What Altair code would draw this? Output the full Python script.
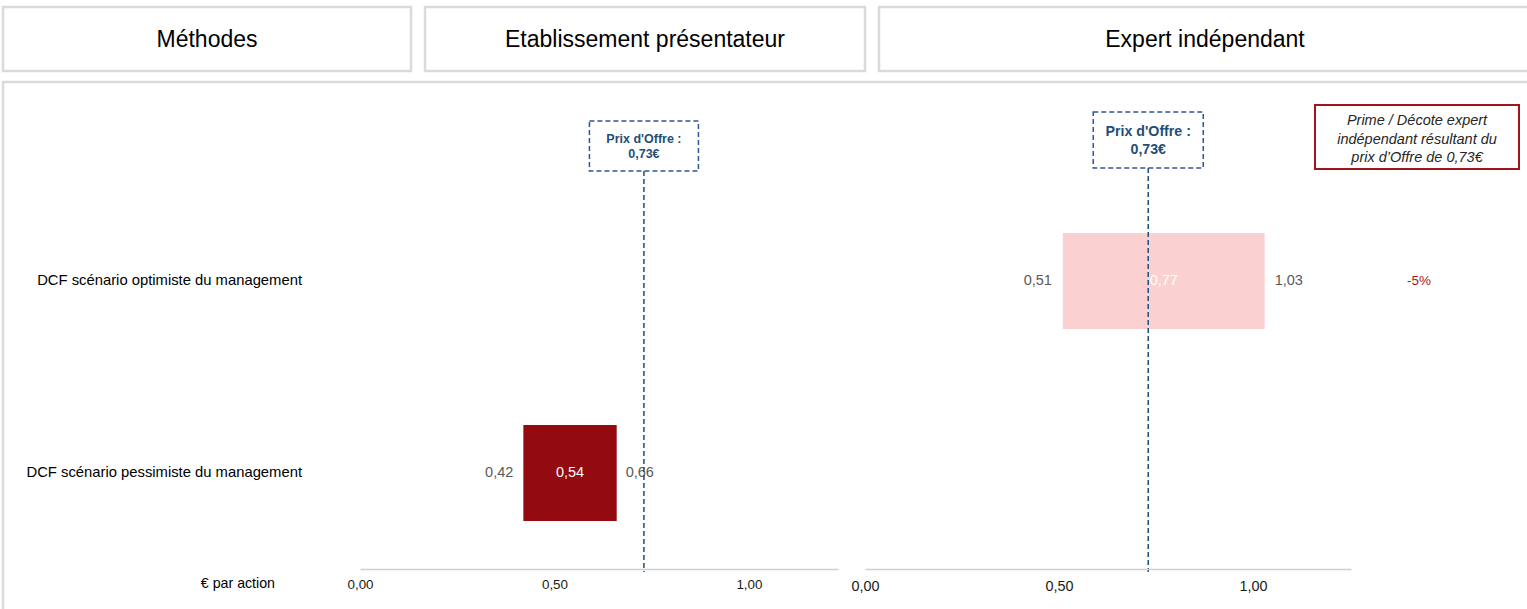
import altair as alt
import pandas as pd

# ---------------- data ----------------
headers = ["Méthodes", "Etablissement présentateur", "Expert indépendant"]
methods = ["DCF scénario optimiste du management", "DCF scénario pessimiste du management"]
unit_label = "€ par action"

bank_method = ["DCF scénario pessimiste du management"]
bank_low = [0.42]
bank_mid = [0.54]
bank_high = [0.66]

expert_method = ["DCF scénario optimiste du management"]
expert_low = [0.51]
expert_mid = [0.77]
expert_high = [1.03]
expert_premium = ["-5%"]

offer_price = [0.73]
offer_text = ["Prix d'Offre :\n0,73€"]
premium_note = "Prime / Décote expert\nindépendant résultant du\nprix d’Offre de 0,73€"
tick_values = [0.0, 0.5, 1.0]

FONT = "Liberation Sans"
BLUE = "#1f4e79"
GREY_BORDER = "#dadada"

bank_df = pd.DataFrame({"method": bank_method, "low": bank_low, "mid": bank_mid, "high": bank_high})
expert_df = pd.DataFrame({"method": expert_method, "low": expert_low, "mid": expert_mid,
                          "high": expert_high, "premium": expert_premium})
methods_df = pd.DataFrame({"method": methods})
offer_df = pd.DataFrame({"price": offer_price, "label": offer_text})
one = alt.Data(values=[{"k": 1}])

# ---------------- scales ----------------
y_scale = alt.Scale(domain=methods, range=[185, 569], paddingInner=0.5, paddingOuter=0.25)
y_enc = alt.Y("method:N", scale=y_scale, axis=None)

xs_bank = alt.Scale(domain=[0, 1.229], range=[360, 838], nice=False, zero=False)
xs_exp = alt.Scale(domain=[0, 1.2526], range=[865, 1351], nice=False, zero=False)

def fmt(field):
    return f"replace(format(datum.{field}, '.2f'), '.', ',')"

def make_axis(size, pad):
    return alt.Axis(orient="bottom", values=tick_values, labelExpr=fmt("value"), title=None,
                    grid=False, ticks=False, tickSize=0, domainColor="#d0d0d0", domainWidth=1.5,
                    labelFontSize=size, labelPadding=pad, labelFlush=False, labelColor="#1a1a1a",
                    labelFont=FONT, zindex=1)

# ---------------- decorations ----------------
def box(x1, x2, y1, y2, stroke=GREY_BORDER, sw=2.5, fill="transparent"):
    return alt.Chart(one).mark_rect(fill=fill, stroke=stroke, strokeWidth=sw).encode(
        x=alt.value(x1), x2=alt.value(x2), y=alt.value(y1), y2=alt.value(y2))

def label(txt, x, y, size, **kw):
    return alt.Chart(one).mark_text(font=FONT, fontSize=size, **kw).encode(
        x=alt.value(x), y=alt.value(y), text=alt.value(txt))

layers = [
    box(3, 1545, 82, 640),
    box(3, 411, 7, 71),
    box(425, 865, 7, 71),
    box(879, 1545, 7, 71),
    label(headers[0], 207, 40, 23, color="black"),
    label(headers[1], 645, 40, 23, color="black"),
    label(headers[2], 1205, 40, 23, color="black"),
    label(unit_label, 275, 584, 14.2, color="black", align="right"),
]

# row labels
layers.append(alt.Chart(methods_df).mark_text(font=FONT, fontSize=14.8, align="right", color="black").encode(
    x=alt.value(302), y=y_enc, text="method:N"))

# ---------------- bank panel ----------------
layers += [
    alt.Chart(bank_df).mark_bar(color="#930a10").encode(
        x=alt.X("low:Q", scale=xs_bank, axis=make_axis(13.4, 8)), x2="high:Q", y=y_enc),
    alt.Chart(bank_df).transform_calculate(t=fmt("low")).mark_text(
        font=FONT, fontSize=14.5, align="right", dx=-10, color="#595959").encode(
        x=alt.X("low:Q", scale=xs_bank, axis=None), y=y_enc, text="t:N"),
    alt.Chart(bank_df).transform_calculate(t=fmt("high")).mark_text(
        font=FONT, fontSize=14.5, align="left", dx=9, color="#595959").encode(
        x=alt.X("high:Q", scale=xs_bank, axis=None), y=y_enc, text="t:N"),
    alt.Chart(bank_df).transform_calculate(t=fmt("mid")).mark_text(
        font=FONT, fontSize=14.5, align="center", color="white").encode(
        x=alt.X("mid:Q", scale=xs_bank, axis=None), y=y_enc, text="t:N"),
    alt.Chart(offer_df).mark_rule(color=BLUE, strokeDash=[5, 3], strokeWidth=1.5).encode(
        x=alt.X("price:Q", scale=xs_bank, axis=None), y=alt.value(171), y2=alt.value(572)),
    alt.Chart(offer_df).mark_point(shape="M-1,-0.4587H1V0.4587H-1Z", size=109 ** 2, filled=False,
                                   opacity=1, stroke="#2f5597", strokeWidth=1.5, strokeDash=[5, 3]).encode(
        x=alt.X("price:Q", scale=xs_bank, axis=None), y=alt.value(146)),
    alt.Chart(offer_df).mark_text(font=FONT, fontSize=12.5, fontWeight="bold", color=BLUE,
                                  lineBreak="\n", lineHeight=15, baseline="middle").encode(
        x=alt.X("price:Q", scale=xs_bank, axis=None), y=alt.value(138.5), text="label:N"),
]

# ---------------- expert panel ----------------
layers += [
    alt.Chart(expert_df).mark_bar(color="#fbd0d1").encode(
        x=alt.X("low:Q", scale=xs_exp, axis=make_axis(14.4, 10)), x2="high:Q", y=y_enc),
    alt.Chart(expert_df).transform_calculate(t=fmt("low")).mark_text(
        font=FONT, fontSize=14.5, align="right", dx=-11, color="#595959").encode(
        x=alt.X("low:Q", scale=xs_exp, axis=None), y=y_enc, text="t:N"),
    alt.Chart(expert_df).transform_calculate(t=fmt("high")).mark_text(
        font=FONT, fontSize=14.5, align="left", dx=10, color="#595959").encode(
        x=alt.X("high:Q", scale=xs_exp, axis=None), y=y_enc, text="t:N"),
    alt.Chart(offer_df).mark_rule(color=BLUE, strokeDash=[5, 3], strokeWidth=1.5).encode(
        x=alt.X("price:Q", scale=xs_exp, axis=None), y=alt.value(168), y2=alt.value(572)),
    alt.Chart(expert_df).transform_calculate(t=fmt("mid")).mark_text(
        font=FONT, fontSize=14.5, align="center", color="white").encode(
        x=alt.X("mid:Q", scale=xs_exp, axis=None), y=y_enc, text="t:N"),
    alt.Chart(offer_df).mark_point(shape="M-1,-0.509H1V0.509H-1Z", size=110 ** 2, filled=False,
                                   opacity=1, stroke="#2f5597", strokeWidth=1.5, strokeDash=[5, 3]).encode(
        x=alt.X("price:Q", scale=xs_exp, axis=None), y=alt.value(140)),
    alt.Chart(offer_df).mark_text(font=FONT, fontSize=14.2, fontWeight="bold", color=BLUE,
                                  lineBreak="\n", lineHeight=18, baseline="middle").encode(
        x=alt.X("price:Q", scale=xs_exp, axis=None), y=alt.value(132), text="label:N"),
    alt.Chart(expert_df).mark_text(font=FONT, fontSize=13.5, color="#a5161d").encode(
        x=alt.value(1419), y=y_enc, text="premium:N"),
    box(1315, 1519, 105, 169, stroke="#a0141e", sw=2, fill="white"),
    label(premium_note, 1417, 121, 14.5, color="#262626", fontStyle="italic",
          lineBreak="\n", lineHeight=18.5, baseline="middle"),
]

chart = alt.layer(*layers).resolve_scale(x="independent").resolve_axis(x="independent").properties(
    width=1527, height=569,
    autosize=alt.AutoSizeParams(type="none"),
    padding={"left": 0, "top": 0, "right": 0, "bottom": 40},
    background="white",
).configure_view(stroke=None)

chart.save("out.html", embed_options={"renderer": "svg", "actions": False})
